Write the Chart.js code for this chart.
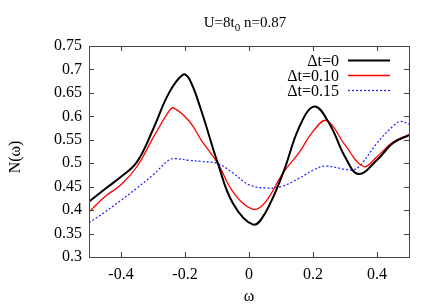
<!DOCTYPE html>
<html>
<head>
<meta charset="utf-8">
<script src="https://cdn.jsdelivr.net/npm/chart.js@4"></script>
<style>
    html, body { margin: 0; padding: 0; background: #fff; }
    #wrap { width: 436px; height: 305px; }
</style>
</head>
<body>
<div id="wrap"><canvas id="chart" width="436" height="305"></canvas></div>
<script>
// values
const xTicks = [-0.4, -0.2, 0, 0.2, 0.4];
const yTicks = [0.3, 0.35, 0.4, 0.45, 0.5, 0.55, 0.6, 0.65, 0.7, 0.75];

const wBlack = [-0.5, -0.45, -0.4, -0.35, -0.3, -0.25, -0.206, -0.186, -0.15, -0.097, -0.05, 0.013, 0.05, 0.107, 0.157, 0.204, 0.25, 0.3, 0.342, 0.4, 0.45, 0.5];
const nBlack = [0.418, 0.445, 0.471, 0.503, 0.572, 0.65, 0.689, 0.679, 0.614, 0.499, 0.414, 0.369, 0.393, 0.48, 0.577, 0.621, 0.586, 0.514, 0.477, 0.507, 0.543, 0.56];

const wRed = [-0.5, -0.45, -0.4, -0.35, -0.3, -0.25, -0.236, -0.186, -0.15, -0.097, -0.05, 0.011, 0.05, 0.107, 0.157, 0.2, 0.243, 0.3, 0.358, 0.4, 0.45, 0.5];
const nRed = [0.396, 0.429, 0.454, 0.493, 0.554, 0.611, 0.618, 0.589, 0.55, 0.499, 0.439, 0.402, 0.416, 0.48, 0.523, 0.568, 0.591, 0.539, 0.493, 0.514, 0.545, 0.561];

const wBlue = [-0.5, -0.45, -0.4, -0.35, -0.3, -0.25, -0.23, -0.186, -0.15, -0.097, -0.05, 0, 0.055, 0.1, 0.157, 0.2, 0.238, 0.3, 0.326, 0.35, 0.4, 0.45, 0.473, 0.5];
const nBlue = [0.373, 0.396, 0.421, 0.447, 0.475, 0.507, 0.51, 0.506, 0.504, 0.499, 0.479, 0.454, 0.447, 0.45, 0.468, 0.485, 0.494, 0.487, 0.486, 0.497, 0.543, 0.579, 0.589, 0.584];

const labels = ['\u0394t=0', '\u0394t=0.10', '\u0394t=0.15'];

const FONT = '"Liberation Serif", "Times New Roman", serif';

function pts(xs, ys) {
    return xs.map((x, i) => ({ x: x, y: ys[i] }));
}

// box, inward ticks, legend, titles
const frame = {
    id: 'frame',
    afterDraw(chart) {
        const c = chart.ctx;
        const a = chart.chartArea;
        const sx = chart.scales.x;
        const sy = chart.scales.y;
        c.save();
        c.strokeStyle = '#444';
        c.lineWidth = 1;
        c.strokeRect(Math.round(a.left) + 0.5, Math.round(a.top) + 0.5,
            Math.round(a.right - a.left), Math.round(a.bottom - a.top));
        c.beginPath();
        xTicks.forEach(v => {
            const px = Math.round(sx.getPixelForValue(v)) + 0.5;
            c.moveTo(px, a.bottom); c.lineTo(px, a.bottom - 5);
            c.moveTo(px, a.top); c.lineTo(px, a.top + 5);
        });
        yTicks.forEach(v => {
            const py = Math.round(sy.getPixelForValue(v)) + 0.5;
            c.moveTo(a.left, py); c.lineTo(a.left + 5, py);
            c.moveTo(a.right, py); c.lineTo(a.right - 5, py);
        });
        c.stroke();

        // legend
        c.font = '16px ' + FONT;
        c.textAlign = 'right';
        c.textBaseline = 'middle';
        chart.data.datasets.forEach((ds, i) => {
            const y = 60.5 + i * 15;
            c.fillStyle = '#000';
            c.fillText(ds.label, 339, y + 1);
            c.strokeStyle = ds.borderColor;
            c.lineWidth = ds.borderWidth;
            c.setLineDash(ds.borderDash || []);
            c.beginPath();
            c.moveTo(348, y); c.lineTo(390, y);
            c.stroke();
            c.setLineDash([]);
        });

        // title with subscript
        c.fillStyle = '#000';
        c.textAlign = 'left';
        c.textBaseline = 'alphabetic';
        c.font = '15px ' + FONT;
        const p1 = 'U=8t', p3 = ' n=0.87';
        const w1 = c.measureText(p1).width;
        const w3 = c.measureText(p3).width;
        c.font = '11px ' + FONT;
        const w2 = c.measureText('0').width;
        let tx = 245 - (w1 + w2 + w3) / 2;
        c.font = '15px ' + FONT;
        c.fillText(p1, tx, 27);
        c.font = '11px ' + FONT;
        c.fillText('0', tx + w1, 31);
        c.font = '15px ' + FONT;
        c.fillText(p3, tx + w1 + w2, 27);

        // axis titles
        c.textAlign = 'center';
        c.textBaseline = 'middle';
        c.font = '16px ' + FONT;
        c.fillText('\u03c9', (a.left + a.right) / 2, 297);
        c.translate(16, 157);
        c.rotate(-Math.PI / 2);
        c.fillText('N(\u03c9)', 0, 0);
        c.restore();
    }
};

new Chart(document.querySelector('#chart').getContext('2d'), {
    type: 'line',
    data: {
        datasets: [
            {
                label: labels[0],
                data: pts(wBlack, nBlack),
                borderColor: '#000000',
                borderWidth: 2
            },
            {
                label: labels[1],
                data: pts(wRed, nRed),
                borderColor: '#ff0000',
                borderWidth: 1.3
            },
            {
                label: labels[2],
                data: pts(wBlue, nBlue),
                borderColor: '#2a2aff',
                borderWidth: 1.3,
                borderDash: [2, 2]
            }
        ]
    },
    options: {
        responsive: false,
        animation: false,
        layout: { padding: { left: 0, top: 46, right: 27, bottom: 0 } },
        elements: {
            point: { radius: 0 },
            line: { tension: 0.4, fill: false }
        },
        plugins: {
            legend: { display: false },
            tooltip: { enabled: false }
        },
        scales: {
            x: {
                type: 'linear',
                min: -0.5,
                max: 0.5,
                afterBuildTicks: s => { s.ticks = xTicks.map(v => ({ value: v })); },
                afterFit: s => { s.height = 48; },
                grid: { display: false, drawTicks: false },
                border: { display: false },
                ticks: {
                    padding: 8,
                    color: '#000',
                    font: { family: FONT, size: 16 },
                    callback: v => String(Number(v.toFixed(2)))
                }
            },
            y: {
                min: 0.3,
                max: 0.75,
                afterBuildTicks: s => { s.ticks = yTicks.map(v => ({ value: v })); },
                afterFit: s => { s.width = 89; },
                grid: { display: false, drawTicks: false },
                border: { display: false },
                ticks: {
                    padding: 7,
                    color: '#000',
                    font: { family: FONT, size: 16 },
                    callback: v => String(Number(v.toFixed(2)))
                }
            }
        }
    },
    plugins: [frame]
});
</script>
</body>
</html>
